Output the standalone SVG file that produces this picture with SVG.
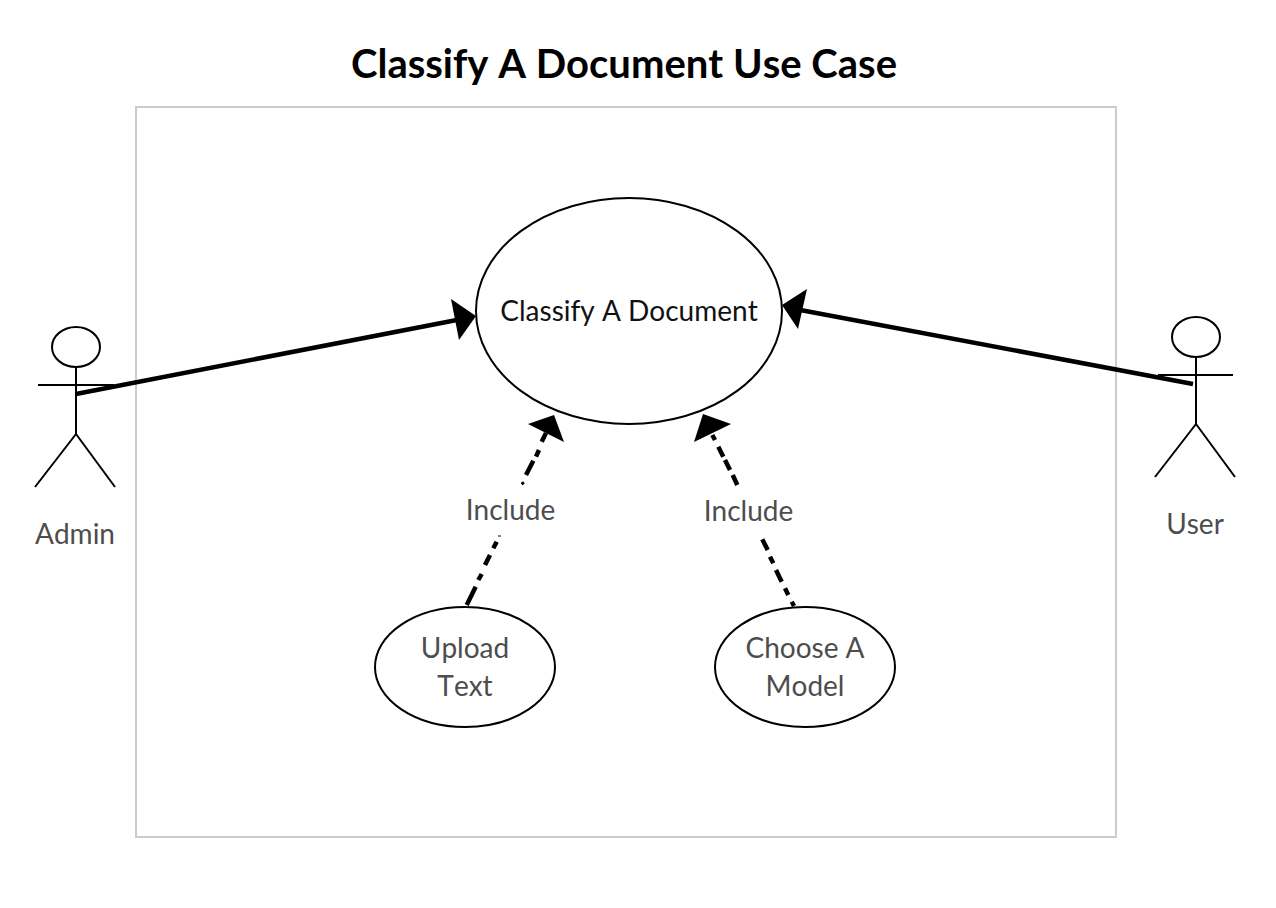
<svg xmlns="http://www.w3.org/2000/svg" width="1276" height="908" viewBox="0 0 1276 908">
<style>
text{font-family:Lato,"Noto Sans",sans-serif;text-anchor:middle;font-kerning:none}
.t{font-size:28px;fill:#4d4d4d}
.shape{fill:#fff;stroke:#000;stroke-width:2}
.fig{fill:none;stroke:#000;stroke-width:2}
.solid{fill:none;stroke:#000;stroke-width:4.500}
.dash{fill:none;stroke:#000;stroke-width:4.500}
.head{fill:#000}
</style>
<rect width="1276" height="908" fill="#fff"/>
<text x="624" y="78" font-size="40" font-weight="700" fill="#000">Classify A Document Use Case</text>
<rect id="boundary" x="136" y="107" width="980" height="730" fill="#fff" stroke="#ccc" stroke-width="2"/>
<g id="classify"><ellipse class="shape" cx="629" cy="311" rx="153" ry="113"/><text x="629" y="321" font-size="28" fill="#111">Classify A Document</text></g>
<g id="upload"><ellipse class="shape" cx="465" cy="667" rx="90" ry="60"/><text class="t" x="465" y="658">Upload</text><text class="t" x="465" y="696">Text</text></g>
<g id="choose"><ellipse class="shape" cx="805" cy="667" rx="90" ry="60"/><text class="t" x="805" y="658">Choose A</text><text class="t" x="805" y="696">Model</text></g>
<g id="admin"><ellipse class="fig" cx="76" cy="347" rx="24" ry="20"/><path class="fig" d="M76 367V434M38 385H114M76 434L35 487M76 434L115 487"/><text class="t" x="75" y="544">Admin</text></g>
<g id="user"><ellipse class="fig" cx="1196" cy="337" rx="24" ry="20"/><path class="fig" d="M1196 357V424M1158 375H1233M1196 424L1155 477M1196 424L1235 477"/><text class="t" x="1195" y="534">User</text></g>
<g id="connectors">
<path class="solid" d="M76 394L462 319"/><polygon class="head" points="476,316 451,299 459,340"/>
<path class="solid" d="M1193 384L795 309"/><polygon class="head" points="782,305 807,289 798,329"/>
<path class="dash" d="M466.700 605L475.700 586.700M478.300 580L481.700 574M485 565L490 555M493.300 548.300L496.700 541.700M526 475L533.300 460.700M536 456.700L539 450M541.700 441.700L546 433"/>
<path d="M498 536H501" stroke="#000" stroke-width="1" fill="none"/><path d="M521.500 484L524 482.500" stroke="#000" stroke-width="3" fill="none"/>
<polygon class="head" points="554,415 528,424 564,442"/>
<path class="dash" d="M794 606L791.700 601.700M788.300 595L785 588.300M781.700 581.700L776 570M773.300 563.300L770 556.700M767.700 550L762.300 539.300M737.300 485L732.700 475M730 470L725 460M723.300 456.700L718.300 446.700M715 440L712.300 435"/>
<polygon class="head" points="703,414 731,424 694,442"/>
<text class="t" x="510.500" y="520">Include</text><text class="t" x="748.500" y="521">Include</text>
</g>
</svg>
